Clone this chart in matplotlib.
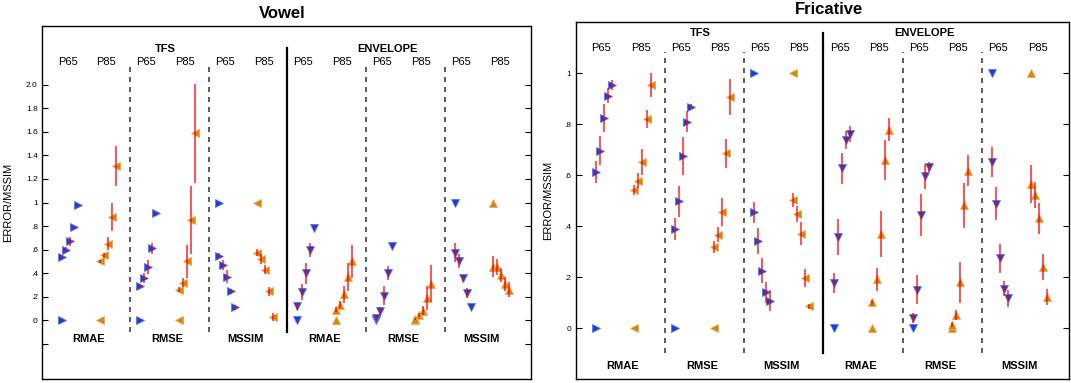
import matplotlib
matplotlib.use("Agg")
import matplotlib.pyplot as plt
import numpy as np

plt.rcParams['font.family'] = ['Liberation Sans', 'DejaVu Sans']

groups = ["RMAE", "RMSE", "MSSIM", "RMAE", "RMSE", "MSSIM"]
levels = ["P65", "P85"]

# vowel: one row per group (TFS RMAE, RMSE, MSSIM, ENVELOPE RMAE, RMSE, MSSIM)
vowel_p65 = [[0, .54, .60, .67, .79, .98],
             [0, .29, .357, .45, .61, .91],
             [1, .547, .47, .37, .245, .108],
             [0, .12, .24, .40, .60, .78],
             [0, .02, .074, .207, .40, .63],
             [1, .575, .50, .355, .23, .11]]
vowel_p65_err = [[0, .01, .02, .04, .01, .01],
                 [0, .02, .04, .06, .05, .01],
                 [0, .02, .04, .055, .02, .02],
                 [0, .03, .07, .09, .06, .01],
                 [0, .02, .04, .08, .06, .01],
                 [0, .08, .06, .03, .04, .01]]
vowel_p85 = [[0, .50, .55, .65, .88, 1.31],
             [0, .26, .32, .50, .85, 1.59],
             [1, .575, .52, .43, .245, .03],
             [0, .09, .13, .22, .365, .50],
             [0, .01, .045, .08, .19, .31],
             [1, .456, .45, .385, .31, .26]]
vowel_p85_err = [[0, .01, .02, .057, .12, .17],
                 [0, .02, .04, .14, .29, .42],
                 [0, .03, .04, .04, .04, .035],
                 [0, .02, .03, .07, .12, .14],
                 [0, .01, .02, .04, .10, .155],
                 [0, .09, .07, .06, .06, .065]]

fric_p65 = [[0, .614, .695, .824, .912, .954],
            [0, .388, .497, .676, .81, .869],
            [1, .454, .342, .225, .14, .108],
            [0, .176, .357, .627, .739, .762],
            [0, .039, .15, .444, .595, .631],
            [1, .651, .488, .273, .154, .116]]
fric_p65_err = [[0, .043, .057, .055, .03, .02],
                [0, .044, .06, .075, .04, .01],
                [0, .04, .05, .05, .04, .04],
                [0, .04, .07, .06, .035, .03],
                [0, .02, .057, .083, .05, .02],
                [0, .06, .065, .056, .03, .035]]
fric_p85 = [[0, .542, .578, .651, .821, .954],
            [0, .318, .366, .455, .686, .906],
            [1, .503, .448, .37, .196, .085],
            [0, .102, .192, .37, .66, .778],
            [0, .013, .052, .179, .481, .618],
            [1, .565, .523, .431, .239, .122]]
fric_p85_err = [[0, .02, .03, .05, .036, .046],
                [0, .025, .03, .055, .057, .07],
                [0, .026, .03, .046, .034, .01],
                [0, .01, .045, .09, .078, .045],
                [0, .01, .02, .08, .09, .06],
                [0, .075, .05, .06, .05, .03]]

vowel_ticks = [-0.2, 0, .2, .4, .6, .8, 1, 1.2, 1.4, 1.6, 1.8, 2.0]
vowel_ticklabels = ['', '0', '.2', '.4', '.6', '.8', '1', '1.2', '1.4', '1.6', '1.8', '2.0']
fric_ticks = [0, .2, .4, .6, .8, 1]
fric_ticklabels = ['0', '.2', '.4', '.6', '.8', '1']

blue = '#1a40d2'
blue_edge = '#5a7be6'
orange = '#d4870a'
orange_edge = '#e6aa55'

steps = np.array([0, 0, 1, 2, 3, 4])
step = 0.051
base = {"P65": 0.13, "P85": 0.62}

fig = plt.figure(figsize=(10.71, 3.83), dpi=100)


def draw_panel(ax, p65, p65e, p85, p85e, ylim, ticks, ticklabels, ytop, title, title_x, lbl_x):
    y_lab = ytop["lab"]
    for g in range(6):
        tfs = g < 3
        for lev, vals, errs in (("P65", p65[g], p65e[g]), ("P85", p85[g], p85e[g])):
            x = g + base[lev] + steps * step
            v = np.array(vals)
            e = np.array(errs)
            if lev == "P65":
                mk = '>' if tfs else 'v'
                c, ec = blue, blue_edge
            else:
                mk = '<' if tfs else '^'
                c, ec = orange, orange_edge
            ax.plot(x, v, ls='none', marker=mk, ms=6, mfc=c, mec=ec, mew=0.6, zorder=2)
            m = e > 0
            ax.vlines(x[m], v[m] - e[m], v[m] + e[m], colors='#ff0000', lw=1.1, alpha=0.85, zorder=3)
        ax.text(g + 0.205, y_lab, "P65", ha='center', va='center', fontsize=8)
        ax.text(g + 0.70, y_lab, "P85", ha='center', va='center', fontsize=8)
        ax.text(g + 0.47, ytop["metric"], groups[g], ha='center', va='center', fontsize=8, fontweight='bold')
    for xb in (1, 2, 4, 5):
        ax.plot([xb, xb], [ytop["low"], ytop["dash"]], color='0.25', lw=1.2, ls=(0, (3, 3)), zorder=1)
    ax.plot([3, 3], [ytop["low"], ytop["solid"]], color='black', lw=1.6, zorder=1)
    ax.text(1.45, ytop["head"], "TFS", ha='center', va='center', fontsize=8, fontweight='bold')
    ax.text(4.27, ytop["head"], "ENVELOPE", ha='center', va='center', fontsize=8, fontweight='bold')

    ax.set_xlim(-0.12, 6.10)
    ax.set_ylim(*ylim)
    ax.set_yticks(ticks)
    ax.set_yticklabels(ticklabels)
    ax.set_xticks([])
    ax.tick_params(axis='y', direction='in', length=4, width=0.8, labelsize=6, right=True, pad=3)
    for s in ax.spines.values():
        s.set_linewidth(1.0)
    ax.set_ylabel("ERROR/MSSIM", fontsize=8)
    ax.yaxis.set_label_coords(lbl_x, 0.5)
    ax.set_title(title, fontsize=12, fontweight='bold', x=title_x, pad=6)


ax1 = fig.add_axes([0.0392, 0.0104, 0.4566, 0.9217])
draw_panel(ax1, vowel_p65, vowel_p65_err, vowel_p85, vowel_p85_err, (-0.5, 2.5),
           vowel_ticks, vowel_ticklabels,
           {"lab": 2.196, "head": 2.307, "metric": -0.16, "low": -0.097, "dash": 2.15, "solid": 2.315},
           "Vowel", 0.492, -0.059)

ax2 = fig.add_axes([0.5375, 0.0104, 0.4609, 0.9314])
draw_panel(ax2, fric_p65, fric_p65_err, fric_p85, fric_p85_err, (-0.2, 1.2),
           fric_ticks, fric_ticklabels,
           {"lab": 1.098, "head": 1.157, "metric": -0.15, "low": -0.098, "dash": 1.085, "solid": 1.158},
           "Fricative", 0.513, -0.046)

plt.savefig('out.png', dpi=100)
